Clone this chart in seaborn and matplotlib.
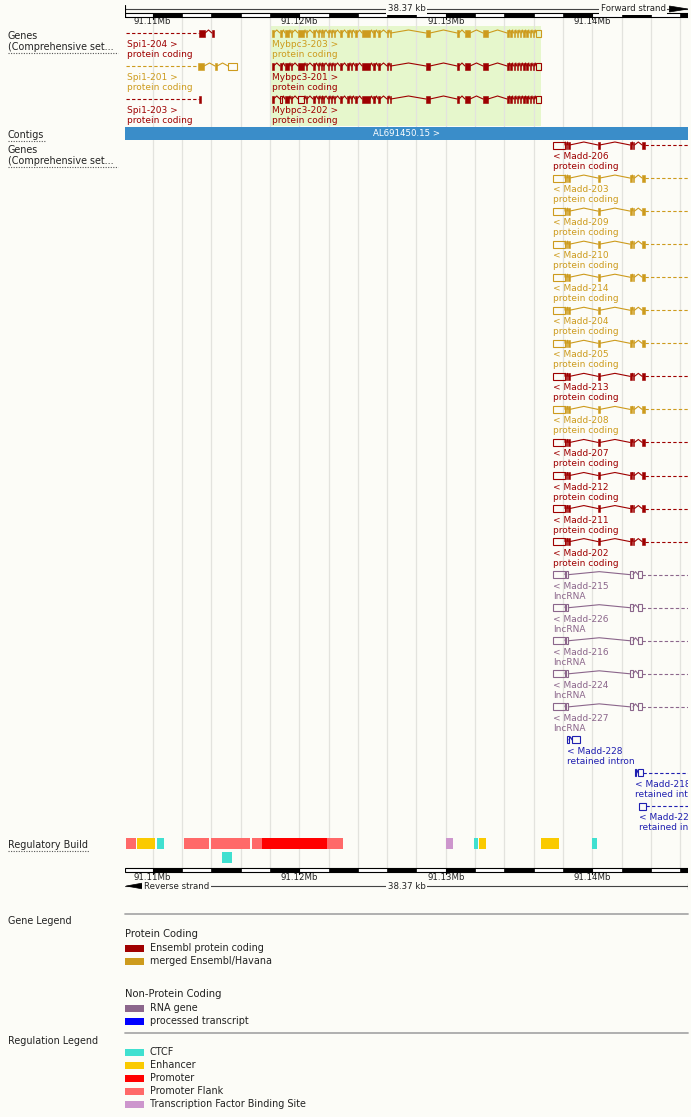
import numpy as np
import matplotlib
matplotlib.use("Agg")
import matplotlib.pyplot as plt
from matplotlib.patches import Rectangle, Polygon
import seaborn as sns

# all genomic positions are kb past 91.10 Mb (chromosome 2 region)
view_start = 8.12
view_end = 46.52
ruler_ticks = [10, 20, 30, 40]
ruler_labels = ["91.11Mb", "91.12Mb", "91.13Mb", "91.14Mb"]
region_size = "38.37 kb"
contig_name = "AL691450.15 >"

# forward strand genes
spi1_names = ["Spi1-204", "Spi1-201", "Spi1-203"]
spi1_source = ["ensembl", "havana", "ensembl"]
spi1_exons = [
    [(13.17, 13.58), (14.05, 14.19)],
    [(13.10, 13.51), (14.26, 14.40)],
    [(13.17, 13.30)],
]
spi1_utr = [[], [(15.15, 15.76)], []]

mybpc3_names = ["Mybpc3-203", "Mybpc3-201", "Mybpc3-202"]
mybpc3_source = ["havana", "ensembl", "ensembl"]
mybpc3_exons = [
    (18.15, 18.25), (18.69, 18.83), (19.03, 19.31), (19.44, 19.51), (19.92, 20.33),
    (20.47, 20.53), (20.94, 21.08), (21.29, 21.35), (21.49, 21.56), (21.63, 21.69),
    (21.97, 22.04), (22.17, 22.24), (22.38, 22.44), (22.79, 22.92), (23.26, 23.40),
    (23.54, 23.60), (23.81, 23.95), (24.29, 24.83), (25.04, 25.17), (25.38, 25.51),
    (25.99, 26.06), (26.20, 26.26), (28.65, 28.92), (30.77, 30.90), (31.31, 31.65),
    (32.54, 32.88), (34.18, 34.28), (34.40, 34.50), (34.62, 34.72), (34.84, 34.94),
    (35.06, 35.16), (35.28, 35.38), (35.50, 35.60), (35.72, 35.82), (35.94, 36.04),
]
mybpc3_utr = [
    [(36.16, 36.50)],
    [(36.16, 36.50)],
    [(18.69, 18.83), (19.92, 20.33), (36.16, 36.50)],
]

# reverse strand Madd transcripts
madd_names = ["Madd-206", "Madd-203", "Madd-209", "Madd-210", "Madd-214", "Madd-204",
              "Madd-205", "Madd-213", "Madd-208", "Madd-207", "Madd-212", "Madd-211",
              "Madd-202", "Madd-215", "Madd-226", "Madd-216", "Madd-224", "Madd-227",
              "Madd-228", "Madd-218", "Madd-222"]
madd_biotype = ["protein coding"] * 13 + ["lncRNA"] * 5 + ["retained intron"] * 3
madd_source = ["ensembl", "havana", "havana", "havana", "havana", "havana", "havana",
               "ensembl", "havana", "ensembl", "ensembl", "ensembl", "ensembl",
               "rna", "rna", "rna", "rna", "rna", "processed", "processed", "processed"]
madd_pc_cds = [(38.17, 38.26), (38.35, 38.45), (40.38, 40.50), (42.57, 42.67),
               (42.77, 42.87), (43.39, 43.59)]
madd_pc_utr = [(37.31, 38.13)]
madd_lnc_exons = [(37.31, 38.13), (38.22, 38.36), (42.57, 42.77), (43.11, 43.39)]
madd_ri_exons = [
    [(38.30, 38.40), (38.61, 39.16)],
    [(42.89, 42.99), (43.11, 43.45)],
    [(43.18, 43.66)],
]
madd_ri_continues = [False, True, True]

# regulatory build
reg_start = [8.17, 8.94, 10.30, 12.14, 13.99, 16.78, 17.47, 21.90, 14.74,
             30.02, 31.93, 32.27, 36.50, 39.98]
reg_end = [8.87, 10.17, 10.78, 13.85, 16.65, 17.47, 21.90, 22.99, 15.42,
           30.49, 32.20, 32.74, 37.72, 40.32]
reg_type = ["Promoter Flank", "Enhancer", "CTCF", "Promoter Flank", "Promoter Flank",
            "Promoter Flank", "Promoter", "Promoter Flank", "CTCF",
            "Transcription Factor Binding Site", "CTCF", "Enhancer", "Enhancer", "CTCF"]
reg_row = [0, 0, 0, 0, 0, 0, 0, 0, 1, 0, 0, 0, 0, 0]

gene_legend_pc = ["Ensembl protein coding", "merged Ensembl/Havana"]
gene_legend_npc = ["RNA gene", "processed transcript"]
reg_legend = ["CTCF", "Enhancer", "Promoter", "Promoter Flank",
              "Transcription Factor Binding Site"]

BG = "#fcfcf7"
src_col = {"ensembl": "#9e0000", "havana": "#cd9b1d", "rna": "#8b668b",
           "processed": "#1f1fb0"}
legend_col = {"Ensembl protein coding": "#a00000", "merged Ensembl/Havana": "#cd9b1d",
              "RNA gene": "#8b668b", "processed transcript": "#0000ff"}
reg_col = {"CTCF": "#40e0d0", "Enhancer": "#faca00", "Promoter": "#ff0000",
           "Promoter Flank": "#ff6969", "Transcription Factor Binding Site": "#cd96cd"}

sns.set_theme(style="white")
plt.rcParams["font.family"] = ["DejaVu Sans"]

W, H = 691, 1117
fig = plt.figure(figsize=(W / 100, H / 100), dpi=100)
fig.patch.set_facecolor(BG)

side = fig.add_axes([0, 0, 1, 1])
side.set_xlim(0, W)
side.set_ylim(H, 0)
side.axis("off")

ax = fig.add_axes([125 / W, 0, 563 / W, 1])
ax.set_xlim(view_start, view_end)
ax.set_ylim(H, 0)
ax.axis("off")

TXT = "#222222"


def ruler(y_bar, y_lab):
    bounds = [view_start] + list(range(10, 47, 2)) + [view_end]
    ax.add_patch(Rectangle((view_start, y_bar), view_end - view_start, 4,
                           fc="white", ec="black", lw=0.8, zorder=4))
    for a, b in zip(bounds[:-1], bounds[1:]):
        if a >= 10 and (a - 10) % 4 == 0:
            ax.add_patch(Rectangle((a, y_bar), b - a, 4, fc="black", ec="black",
                                   lw=0.5, zorder=5))
    for t, lab in zip(ruler_ticks, ruler_labels):
        ax.plot([t, t], [y_bar, y_bar + 6], color="black", lw=0.8, zorder=5)
        ax.text(t, y_lab, lab, fontsize=6.2, ha="center", va="center", color=TXT)


# grid lines every 2 kb
for g in range(10, 47, 2):
    ax.plot([g, g], [17, 868], color="#e3e3de", lw=0.9, zorder=1)

# top ruler
ruler(13, 22)
ax.plot([view_start, view_end], [9, 9], color="#444444", lw=0.8, zorder=4)
ax.plot([view_start, view_start], [5, 17], color="black", lw=0.8, zorder=4)
mid = (view_start + view_end) / 2
ax.text(mid, 8.5, region_size, fontsize=6.2, ha="center", va="center", color=TXT,
        bbox=dict(fc=BG, ec="none", pad=1.2), zorder=6)
ax.add_patch(Polygon([[45.25, 6], [view_end, 9], [45.25, 12]], closed=True,
                     fc="black", ec="black", lw=0.5, zorder=6))
ax.text(45.0, 8.5, "Forward strand", fontsize=6.2, ha="right", va="center", color=TXT,
        bbox=dict(fc=BG, ec="none", pad=1.2), zorder=6)

# bottom ruler
ruler(868, 878)
ax.plot([view_start, view_end], [886, 886], color="#444444", lw=0.8, zorder=4)
ax.plot([view_end - 0.02, view_end - 0.02], [883, 889], color="black", lw=0.8, zorder=4)
ax.add_patch(Polygon([[9.35, 883], [8.2, 886], [9.35, 889]], closed=True,
                     fc="black", ec="black", lw=0.5, zorder=6))
ax.text(9.42, 886.5, "Reverse strand", fontsize=6.2, ha="left", va="center", color=TXT,
        bbox=dict(fc=BG, ec="none", pad=1.2), zorder=6)
ax.text(mid, 886.5, region_size, fontsize=6.2, ha="center", va="center", color=TXT,
        bbox=dict(fc=BG, ec="none", pad=1.2), zorder=6)

# highlighted gene
hl_start = min(a for a, b in mybpc3_exons)
hl_end = max(b for tr in mybpc3_utr for a, b in tr)
ax.add_patch(Rectangle((hl_start - 0.12, 26), hl_end - hl_start + 0.12, 100,
                       fc="#e6f7cc", ec="none", zorder=0.5))

# contig
ax.add_patch(Rectangle((view_start, 127), view_end - view_start, 13, fc="#3a8dc9",
                       ec="none", zorder=4))
ax.text(mid, 133.5, contig_name, fontsize=6.2, color="white", ha="center",
        va="center", zorder=5)


def draw_transcript(y, filled, hollow, colour, dash_left=False, dash_right=False):
    parts = sorted(filled + hollow)
    for a, b in filled:
        ax.add_patch(Rectangle((a, y - 3.5), max(b - a, 0.07), 7, fc=colour, ec=colour,
                               lw=0.4, zorder=3))
    for a, b in hollow:
        ax.add_patch(Rectangle((a, y - 3.5), max(b - a, 0.07), 7, fc="none", ec=colour,
                               lw=0.8, zorder=3))
    for (a0, b0), (a1, b1) in zip(parts[:-1], parts[1:]):
        if a1 > b0:
            m = (b0 + a1) / 2
            ax.plot([b0, m, a1], [y, y - 3, y], color=colour, lw=0.8, zorder=2)
    if dash_left:
        ax.plot([view_start + 0.1, parts[0][0]], [y, y], color=colour, lw=0.8,
                ls=(0, (3, 2)), zorder=2)
    if dash_right:
        ax.plot([parts[-1][1], view_end], [y, y], color=colour, lw=0.8,
                ls=(0, (3, 2)), zorder=2)


def gene_label(x, y, name, biotype, colour):
    ax.text(x, y + 11.5, name, fontsize=6.5, color=colour, va="center", ha="left",
            clip_on=True, zorder=6)
    ax.text(x, y + 21.5, biotype, fontsize=6.5, color=colour, va="center", ha="left",
            clip_on=True, zorder=6)


for i, name in enumerate(spi1_names):
    y = 33 + 33 * i
    c = src_col[spi1_source[i]]
    draw_transcript(y, spi1_exons[i], spi1_utr[i], c, dash_left=True)
    gene_label(view_start + 0.14, y, name + " >", "protein coding", c)

for i, name in enumerate(mybpc3_names):
    y = 33 + 33 * i
    c = src_col[mybpc3_source[i]]
    filled = [e for e in mybpc3_exons if e not in mybpc3_utr[i]]
    hollow = [e for e in mybpc3_utr[i]]
    draw_transcript(y, filled, hollow, c)
    gene_label(mybpc3_exons[0][0], y, name + " >", "protein coding", c)

for i, name in enumerate(madd_names):
    y = 145 + 33.05 * i
    c = src_col[madd_source[i]]
    bt = madd_biotype[i]
    if bt == "protein coding":
        draw_transcript(y, madd_pc_cds, madd_pc_utr, c, dash_right=True)
        x0 = madd_pc_utr[0][0]
    elif bt == "lncRNA":
        draw_transcript(y, [], madd_lnc_exons, c, dash_right=True)
        x0 = madd_lnc_exons[0][0]
    else:
        k = i - 18
        draw_transcript(y, [], madd_ri_exons[k], c, dash_right=madd_ri_continues[k])
        x0 = madd_ri_exons[k][0][0]
    gene_label(x0, y, "< " + name, bt, c)

# regulatory build
for s, e, t, r in zip(reg_start, reg_end, reg_type, reg_row):
    y0 = 838 + 14 * r
    ax.add_patch(Rectangle((s, y0), e - s, 11, fc=reg_col[t], ec="none", zorder=3))

# track names on the left
def track_name(y, text, underline=None, size=6.9):
    side.text(8, y, text, fontsize=size, color=TXT, va="center", ha="left")
    if underline:
        side.plot([8, underline], [y + 5.5, y + 5.5], color="#555555", lw=0.8,
                  ls=(0, (1, 1.3)))


track_name(36, "Genes")
track_name(47, "(Comprehensive set...", 118)
track_name(135, "Contigs", 46)
track_name(150, "Genes")
track_name(161, "(Comprehensive set...", 118)
track_name(845, "Regulatory Build", 89)
track_name(921, "Gene Legend")
track_name(1041, "Regulation Legend")

# legends
for yl in [914, 1033]:
    side.plot([125, 688], [yl, yl], color="#aaaaaa", lw=1.3)


def legend_item(y, label, colour):
    side.add_patch(Rectangle((125, y - 3.5), 19, 7, fc=colour, ec="none"))
    side.text(150, y, label, fontsize=6.9, color=TXT, va="center", ha="left")


side.text(125, 934, "Protein Coding", fontsize=7.2, color=TXT, va="center")
for j, lab in enumerate(gene_legend_pc):
    legend_item(948 + 13.3 * j, lab, legend_col[lab])
side.text(125, 994, "Non-Protein Coding", fontsize=7.2, color=TXT, va="center")
for j, lab in enumerate(gene_legend_npc):
    legend_item(1008 + 13.3 * j, lab, legend_col[lab])
for j, lab in enumerate(reg_legend):
    legend_item(1052 + 13.1 * j, lab, reg_col[lab])

fig.savefig("out.png", dpi=100, facecolor=BG)
